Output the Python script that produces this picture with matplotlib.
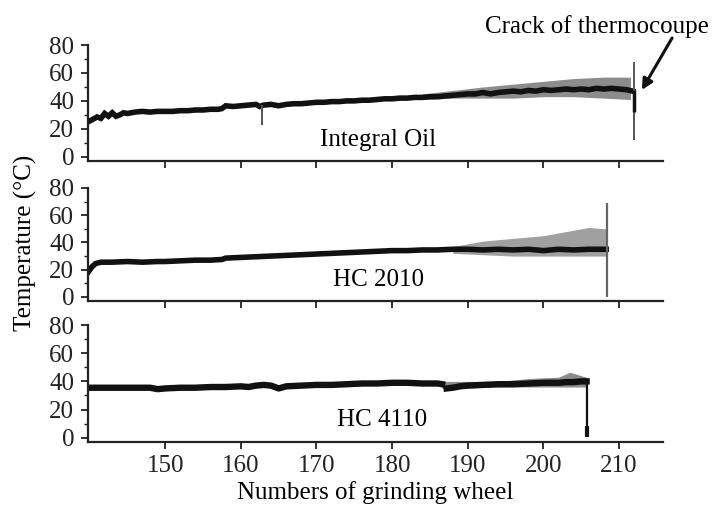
import matplotlib
matplotlib.use("Agg")
import matplotlib.pyplot as plt
import numpy as np

# ---------------- data ----------------
oil_x = [139.8, 140.5, 141, 141.5, 142, 142.5, 143, 143.5, 144, 144.5,
         145, 146, 147, 148, 149, 150, 151, 152, 153, 154,
         155, 156, 157, 157.5, 158, 159, 160, 161, 162, 162.5,
         163, 164, 165, 166, 167, 168, 169, 170, 171, 172,
         173, 174, 175, 176, 177, 178, 179, 180, 181, 182,
         183, 184, 185, 186, 187, 188, 189, 190, 191, 192,
         193, 194, 195, 196, 197, 198, 199, 200, 201, 202,
         203, 204, 205, 206, 207, 208, 209, 210, 211, 211.8]
oil_t = [25, 27, 28.5, 27.5, 31, 29, 31.5, 29, 30, 31.5,
         31, 32, 32.5, 32, 32.5, 32.5, 32.5, 33, 33, 33.5,
         33.5, 34, 34, 34.5, 36.5, 36, 36.5, 37, 37.5, 36,
         37, 37.5, 36.5, 37.5, 38, 38, 38.5, 39, 39, 39.5,
         39.5, 40, 40, 40.5, 40.5, 41, 41.5, 41.5, 42, 42,
         42.5, 42.5, 43, 43, 43.5, 44, 44.5, 45, 45, 46,
         45, 46, 46.5, 47, 46.5, 47.5, 47, 48, 47.5, 48,
         48.5, 48, 48.5, 48, 49, 48.5, 49, 48.5, 48, 47]
oil_spread_x = [184, 188, 192, 196, 200, 204, 208, 211.5]
oil_spread_hi = [45, 47.5, 50, 52, 54, 56, 57, 57]
oil_spread_lo = [41, 42, 42, 42, 43, 43, 42, 41]
oil_spikes_x = [162.8, 212.0]
oil_spikes_lo = [23, 12]
oil_spikes_hi = [37, 68]

hc2010_x = [139.8, 140.3, 140.8, 141.5, 143, 145, 147, 149, 150, 152,
            154, 156, 157.5, 158, 160, 162, 164, 166, 168, 170,
            172, 174, 176, 178, 180, 182, 184, 186, 188, 190,
            192, 194, 196, 198, 200, 202, 204, 206, 208.3]
hc2010_t = [18, 22, 24.5, 25.5, 25.5, 26, 25.5, 26, 26, 26.5,
            27, 27, 27.5, 28.5, 29, 29.5, 30, 30.5, 31, 31.5,
            32, 32.5, 33, 33.5, 34, 34, 34.5, 34.5, 35, 35,
            34.5, 35, 34.5, 35, 34, 35, 34.5, 35, 35]
hc2010_spread_x = [188, 192, 196, 200, 204, 206, 208.3]
hc2010_spread_hi = [37, 41, 43, 45, 49, 51, 50]
hc2010_spread_lo = [32, 31, 30, 30, 30, 30, 30]
hc2010_spike_x = [208.4]
hc2010_spike_lo = [0]
hc2010_spike_hi = [69]

hc4110_x = [139.8, 142, 144, 146, 148, 149, 150, 152, 154, 156,
            158, 160, 161, 162, 163, 164, 165, 166, 168, 170,
            172, 174, 176, 178, 180, 182, 184, 186, 186.6]
hc4110_t = [35.5, 35.5, 35.5, 35.5, 35.5, 34.5, 35, 35.5, 35.5, 36,
            36, 36.5, 36, 37, 37.5, 37, 35, 36.5, 37, 37.5,
            37.5, 38, 38.5, 38.5, 39, 39, 38.5, 38.5, 38]
hc4110b_x = [187.2, 188, 189, 190, 192, 194, 196, 198, 200, 202,
             203, 204, 205, 205.7]
hc4110b_t = [35, 35.5, 36.5, 37, 37.5, 38, 38, 38.5, 39, 39,
             39.5, 39.5, 40, 40]
hc4110_spread_x = [186.6, 187.2, 194, 198, 202, 203.5, 205, 205.7]
hc4110_spread_hi = [40, 40, 40, 42, 43, 46.5, 44, 43]
hc4110_spread_lo = [35, 35, 36, 36, 36, 36, 36, 36]
hc4110_drop_x = [205.8]
hc4110_drop_lo = [0.5]
hc4110_drop_hi = [40]

panel_names = ["Integral Oil", "HC 2010", "HC 4110"]
x_ticks = [150, 160, 170, 180, 190, 200, 210]
y_ticks = [0, 20, 40, 60, 80]

# ---------------- figure ----------------
plt.rcParams['font.family'] = ['Liberation Serif', 'DejaVu Serif']
fig = plt.figure(figsize=(7.13, 5.12), dpi=100)

W, H = 713.0, 512.0
boxes = [(88, 45, 663, 161), (88, 188, 663, 301), (88, 325, 663, 442)]
axes = []
for (l, t, r, b) in boxes:
    ax = fig.add_axes([l / W, 1 - b / H, (r - l) / W, (b - t) / H])
    axes.append(ax)

FS = 18
band_lw = 4.0
spread_col = '#8c8c8c'
for i, ax in enumerate(axes):
    ax.set_xlim(139.8, 215.8)
    ax.set_ylim(-3, 80)
    for s in ['top', 'right']:
        ax.spines[s].set_visible(False)
    for s in ['left', 'bottom']:
        ax.spines[s].set_linewidth(1.6)
        ax.spines[s].set_color('#222222')
    ax.spines['left'].set_bounds(-3, 80)
    ax.set_yticks(y_ticks)
    ax.set_yticks([10, 30, 50, 70], minor=True)
    ax.set_xticks(x_ticks)
    ax.tick_params(axis='y', which='major', direction='out', length=5, width=1.3,
                   labelsize=FS, pad=5, colors='#222222')
    ax.tick_params(axis='y', which='minor', direction='out', length=3, width=1.0,
                   colors='#222222')
    ax.tick_params(axis='x', which='major', direction='out', length=5, width=1.3,
                   labelsize=FS, pad=4, colors='#222222')
    if i < 2:
        ax.tick_params(axis='x', labelbottom=False)
    ax.patch.set_visible(False)

# Integral Oil
ax = axes[0]
ax.fill_between(oil_spread_x, oil_spread_lo, oil_spread_hi, color=spread_col, lw=0)
ax.plot(oil_x, oil_t, color='#111111', lw=band_lw, solid_joinstyle='miter')
ax.vlines(oil_spikes_x, oil_spikes_lo, oil_spikes_hi, color='#555555', lw=1.4)
ax.vlines([212.0], [32], [48], color='#111111', lw=2.5)
ax.text(170.5, 12, panel_names[0], fontsize=FS, va='center', ha='left')
ax.annotate('', xy=(213.0, 47.8), xytext=(217.0, 85),
            arrowprops=dict(arrowstyle='-|>', lw=2.2, color='#111111',
                            mutation_scale=16, shrinkA=0, shrinkB=0),
            annotation_clip=False)

# HC 2010
ax = axes[1]
ax.fill_between(hc2010_spread_x, hc2010_spread_lo, hc2010_spread_hi, color='#a0a0a0', lw=0)
ax.plot(hc2010_x, hc2010_t, color='#111111', lw=band_lw)
ax.vlines(hc2010_spike_x, hc2010_spike_lo, hc2010_spike_hi, color='#666666', lw=1.6)
ax.text(172.2, 12.4, panel_names[1], fontsize=FS, va='center', ha='left')

# HC 4110
ax = axes[2]
ax.fill_between(hc4110_spread_x, hc4110_spread_lo, hc4110_spread_hi, color=spread_col, lw=0)
ax.plot(hc4110_x, hc4110_t, color='#111111', lw=band_lw + 0.6)
ax.plot(hc4110b_x, hc4110b_t, color='#111111', lw=band_lw + 0.6)
ax.vlines(hc4110_drop_x, hc4110_drop_lo, hc4110_drop_hi, color='#111111', lw=1.6)
ax.vlines(hc4110_drop_x, [0.5], [8], color='#111111', lw=3)
ax.text(172.7, 12.6, panel_names[2], fontsize=FS, va='center', ha='left')

fig.text(597 / W, 1 - 27 / H, "Crack of thermocoupe", fontsize=FS, ha='center', va='center')
fig.text(25 / W, 1 - 243 / H, "Temperature (\u00b0C)", fontsize=FS, rotation=90,
         ha='center', va='center')
fig.text(375 / W, 1 - 493 / H, "Numbers of grinding wheel", fontsize=FS,
         ha='center', va='center')

fig.savefig("out.png", dpi=100)
